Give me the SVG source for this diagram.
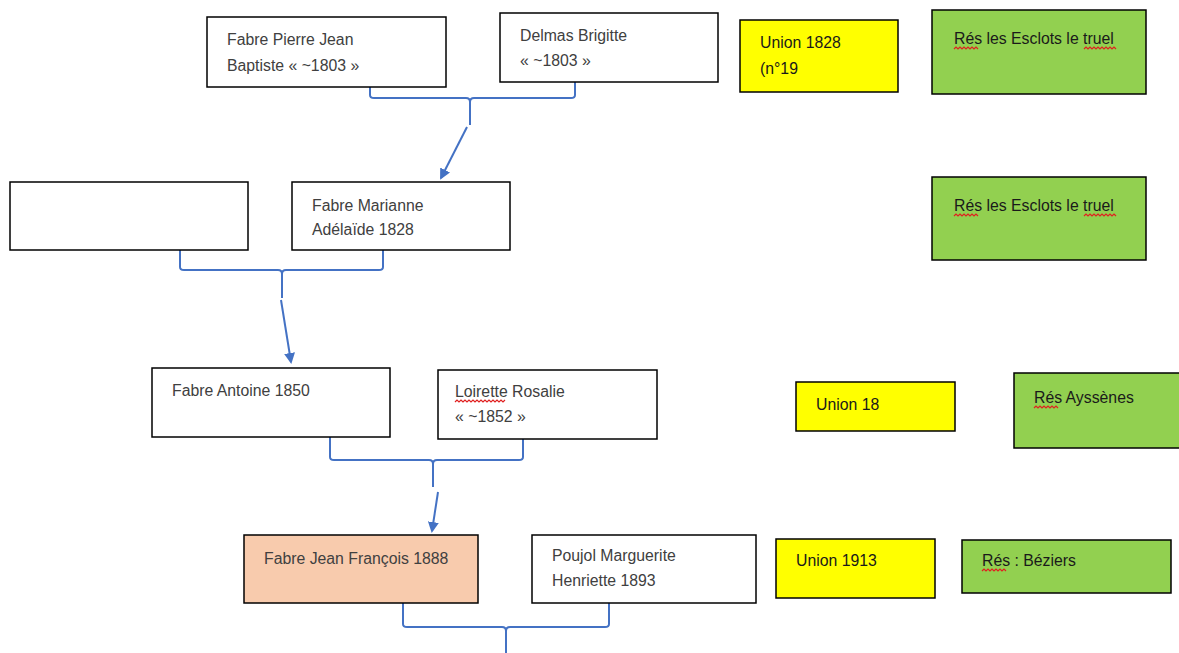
<svg xmlns="http://www.w3.org/2000/svg" width="1179" height="653" viewBox="0 0 1179 653">
<style>
.box{stroke:#000;stroke-width:1.5}
.w{fill:#fff}
.y{fill:#ffff00}
.g{fill:#92d050}
.o{fill:#f8cbad}
.t{font-family:"Liberation Sans",Arial,sans-serif;font-size:15.8px;fill:#404040}
.d{fill:#1a1a1a}
.c{fill:none;stroke:#4472c4;stroke-width:2;stroke-linejoin:round}
.sq{fill:none;stroke:#e02020;stroke-width:1.2}
</style>
<defs>
<marker id="ah" markerWidth="11" markerHeight="11" refX="9" refY="5.5" orient="auto" markerUnits="userSpaceOnUse">
<path d="M0,0 L11,5.5 L0,11 z" fill="#4472c4"/>
</marker>
</defs>
<rect width="1179" height="653" fill="#fff"/>
<g id="connectors">
<path class="c" d="M370,87 V95 Q370,98 374,98 H466 Q470,98 470,102 Q470,98 474,98 H571 Q575,98 575,95 V82"/>
<path class="c" d="M470,102 V125"/>
<path class="c" d="M467,127 L441,178" marker-end="url(#ah)"/>
<path class="c" d="M180,250 V267 Q180,270 184,270 H278 Q282,270 282,274 Q282,270 286,270 H379 Q383,270 383,267 V250"/>
<path class="c" d="M282,274 V298"/>
<path class="c" d="M281,300 L291,362" marker-end="url(#ah)"/>
<path class="c" d="M330,437 V457 Q330,460 334,460 H429 Q433,460 433,464 Q433,460 437,460 H519 Q523,460 523,457 V439"/>
<path class="c" d="M433,464 V487"/>
<path class="c" d="M438,492 L432,531" marker-end="url(#ah)"/>
<path class="c" d="M403,603 V624 Q403,627 407,627 H502 Q506,627 506,631 Q506,627 510,627 H605 Q609,627 609,624 V603"/>
<path class="c" d="M506,631 V653"/>
</g>
<g id="n1"><rect class="box w" x="207" y="17" width="239" height="70"/><text class="t" x="227" y="45">Fabre Pierre Jean</text><text class="t" x="227" y="71">Baptiste « ~1803 »</text></g>
<g id="n2"><rect class="box w" x="500" y="13" width="218" height="69"/><text class="t" x="520" y="41">Delmas Brigitte</text><text class="t" x="520" y="66">« ~1803 »</text></g>
<g id="n3"><rect class="box y" x="740" y="20" width="158" height="72"/><text class="t d" x="760" y="48">Union 1828</text><text class="t d" x="760" y="74">(n°19</text></g>
<g id="n4"><rect class="box g" x="932" y="10" width="214" height="84"/><text class="t d" x="954" y="44">Rés les Esclots le truel</text><path class="sq" d="M954,49 l2,-2 l2,2 l2,-2 l2,2 l2,-2 l2,2 l2,-2 l2,2 l2,-2 l2,2 l2,-2 l2,2"/><path class="sq" d="M1084,49 l2,-2 l2,2 l2,-2 l2,2 l2,-2 l2,2 l2,-2 l2,2 l2,-2 l2,2 l2,-2 l2,2 l2,-2 l2,2 l2,-2 l2,2"/></g>
<g id="n5"><rect class="box w" x="10" y="182" width="238" height="68"/></g>
<g id="n6"><rect class="box w" x="292" y="182" width="218" height="68"/><text class="t" x="312" y="211">Fabre Marianne</text><text class="t" x="312" y="235">Adélaïde 1828</text></g>
<g id="n7"><rect class="box g" x="932" y="177" width="214" height="83"/><text class="t d" x="954" y="211">Rés les Esclots le truel</text><path class="sq" d="M954,216 l2,-2 l2,2 l2,-2 l2,2 l2,-2 l2,2 l2,-2 l2,2 l2,-2 l2,2 l2,-2 l2,2"/><path class="sq" d="M1084,216 l2,-2 l2,2 l2,-2 l2,2 l2,-2 l2,2 l2,-2 l2,2 l2,-2 l2,2 l2,-2 l2,2 l2,-2 l2,2 l2,-2 l2,2"/></g>
<g id="n8"><rect class="box w" x="152" y="368" width="238" height="69"/><text class="t" x="172" y="396">Fabre Antoine 1850</text></g>
<g id="n9"><rect class="box w" x="438" y="370" width="219" height="69"/><text class="t" x="455" y="397">Loirette Rosalie</text><text class="t" x="455" y="422">« ~1852 »</text><path class="sq" d="M455,402 l2,-2 l2,2 l2,-2 l2,2 l2,-2 l2,2 l2,-2 l2,2 l2,-2 l2,2 l2,-2 l2,2 l2,-2 l2,2 l2,-2 l2,2 l2,-2 l2,2 l2,-2 l2,2 l2,-2 l2,2 l2,-2 l2,2 l2,-2"/></g>
<g id="n10"><rect class="box y" x="796" y="382" width="159" height="49"/><text class="t d" x="816" y="410">Union 18</text></g>
<g id="n11"><rect class="box g" x="1014" y="373" width="170" height="75"/><text class="t d" x="1034" y="403">Rés Ayssènes</text><path class="sq" d="M1034,408 l2,-2 l2,2 l2,-2 l2,2 l2,-2 l2,2 l2,-2 l2,2 l2,-2 l2,2 l2,-2 l2,2"/></g>
<g id="n12"><rect class="box o" x="244" y="535" width="234" height="68"/><text class="t" x="264" y="564">Fabre Jean François 1888</text></g>
<g id="n13"><rect class="box w" x="532" y="535" width="224" height="68"/><text class="t" x="552" y="561">Poujol Marguerite</text><text class="t" x="552" y="586">Henriette 1893</text></g>
<g id="n14"><rect class="box y" x="776" y="539" width="159" height="59"/><text class="t d" x="796" y="566">Union 1913</text></g>
<g id="n15"><rect class="box g" x="962" y="540" width="209" height="53"/><text class="t d" x="982" y="566">Rés : Béziers</text><path class="sq" d="M982,571 l2,-2 l2,2 l2,-2 l2,2 l2,-2 l2,2 l2,-2 l2,2 l2,-2 l2,2 l2,-2 l2,2"/></g>
</svg>
